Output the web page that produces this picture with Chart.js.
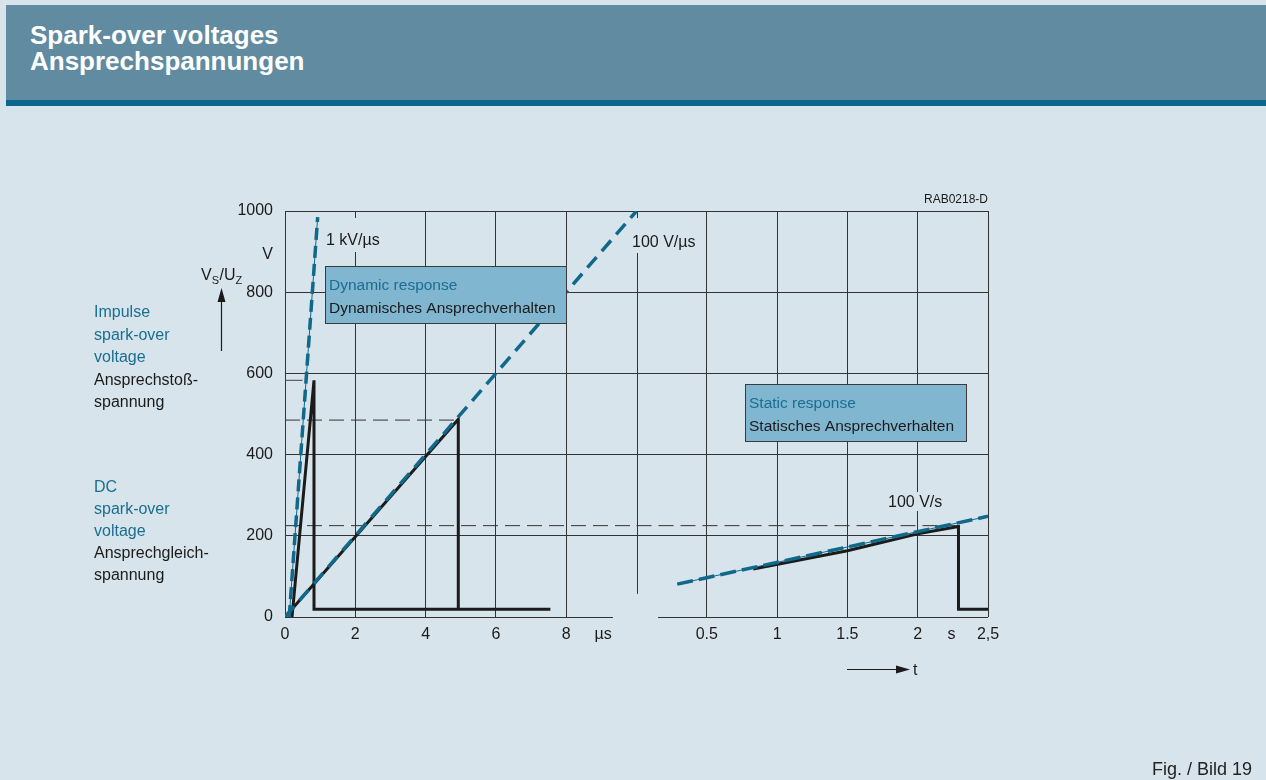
<!DOCTYPE html>
<html>
<head>
<meta charset="utf-8">
<script src="https://cdn.jsdelivr.net/npm/chart.js@4.4.1/dist/chart.umd.min.js"></script>
<style>
  html, body { margin: 0; padding: 0; background: #d8e4eb; }
  body { width: 1266px; height: 780px; position: relative; overflow: hidden;
         font-family: "Liberation Sans", Arial, Helvetica, sans-serif; }
  #header { position: absolute; left: 6px; top: 5px; width: 1260px; height: 95px;
            background: #608ba0; border-bottom: 6px solid #0b688c; }
  #title { position: absolute; left: 30px; top: 22px; color: #fff; font-weight: bold;
           font-size: 26px; line-height: 26px; white-space: nowrap; }
  #fig { position: absolute; right: 14px; top: 760px; font-size: 18px; line-height: 18px; color: #222; }
  canvas { position: absolute; left: 0; top: 0; }
</style>
</head>
<body>
<canvas id="chart" width="1266" height="780"></canvas>
<div id="header"></div>
<div id="title">Spark-over voltages<br>Ansprechspannungen</div>
<div id="fig">Fig. / Bild 19</div>
<script>
const BG = "#d8e4eb";
const TEAL = "#10688a";
const TEAL_TEXT = "#196e91";
const INK = "#1b1b1b";
const GRID = "#333333";
const FONT = '"Liberation Sans", Arial, Helvetica, sans-serif';

// y axis (volts)
const voltTicks = [0, 200, 400, 600, 800, 1000];

// tick labels of the two time sections
const usTicks = [0, 2, 4, 6, 8];
const sTicks = [0.5, 1, 1.5, 2, 2.5];
const sTickLabels = ["0.5", "1", "1.5", "2", "2,5"];

// dynamic section, time in microseconds
const rate1kTime = [0.12, 0.93];
const rate1kVolt = [0, 985];
const rate100Time = [0, 10];
const rate100Volt = [0, 1000];
const fastTime = [0.2, 0.825, 0.825, 7.55];
const fastVolt = [0, 583, 19, 19];
const slowTime = [0, 4.93, 4.93];
const slowVolt = [0, 487, 19];
const fastPeakTime = [0, 0.5];
const fastPeakVolt = [583, 583];
const slowPeakTime = [0, 4.93];
const slowPeakVolt = [485, 485];
const dcLevelUsTime = [0, 10];
const dcLevelUsVolt = [225, 225];

// static section, time in seconds
const rate100sTime = [0.29, 2.5];
const rate100sVolt = [81, 248];
const staticTime = [0.83, 1.5, 2.0, 2.29, 2.29, 2.5];
const staticVolt = [118, 163, 205, 223, 19, 19];
const dcLevelSTime = [0, 2.29];
const dcLevelSVolt = [225, 225];

// both sections share the width: 0..20 us on one axis, -2.5..2.5 s on the other
const US_MAX = 20;
const S_MIN = -2.5, S_MAX = 2.5;

function pts(xs, ys) {
    return xs.map((v, i) => ({x: v, y: ys[i]}));
}

function line(label, xs, ys, axis, style) {
    return Object.assign({
        label: label,
        data: pts(xs, ys),
        xAxisID: axis,
        pointRadius: 0,
        tension: 0,
        fill: false,
        borderWidth: 3,
        borderColor: INK,
        borderJoinStyle: "miter",
        order: 1
    }, style);
}

const tealDash = {borderColor: TEAL, borderWidth: 3.5, borderDash: [12, 6], borderCapStyle: "butt", order: 0};
const tealThin = {borderColor: TEAL, borderWidth: 1, order: 0};
const levelDash = {borderColor: GRID, borderWidth: 1, borderDash: [15, 7], order: 2};

const datasets = [
    line("1 kV/us", rate1kTime, rate1kVolt, "x", tealDash),
    line("1 kV/us thin", rate1kTime, rate1kVolt, "x", tealThin),
    line("100 V/us", rate100Time, rate100Volt, "x", Object.assign({}, tealDash, {borderDash: [14, 8]})),
    line("100 V/s", rate100sTime, rate100sVolt, "xs", Object.assign({}, tealDash, {borderDash: [16, 6]})),
    line("100 V/s thin", rate100sTime, rate100sVolt, "xs", tealThin),
    line("impulse 1 kV/us", fastTime, fastVolt, "x", {}),
    line("impulse 100 V/us", slowTime, slowVolt, "x", {}),
    line("static", staticTime, staticVolt, "xs", {}),
    line("peak 1 kV/us", fastPeakTime, fastPeakVolt, "x", {borderColor: "#444", borderWidth: 1, order: 2}),
    line("peak 100 V/us", slowPeakTime, slowPeakVolt, "x", levelDash),
    line("dc level us", dcLevelUsTime, dcLevelUsVolt, "x", levelDash),
    line("dc level s", dcLevelSTime, dcLevelSVolt, "xs", levelDash)
];

// slope labels, knocked out of the grid (above / below the baseline)
const rateLabels = [
    {text: "1 kV/\u00b5s", x: 326, y: 245, up: 27, down: 7},
    {text: "100 V/\u00b5s", x: 632, y: 247, up: 29, down: 6},
    {text: "100 V/s", x: 888, y: 507, up: 15, down: 4}
];

function usLabel(value) {
    if (usTicks.includes(value)) return String(value);
    const s = S_MIN + value / US_MAX * (S_MAX - S_MIN);
    const i = sTicks.findIndex(t => Math.abs(t - s) < 1e-6);
    return i >= 0 ? sTickLabels[i] : "";
}

function drawBox(ctx, x, y, w, h, title, sub) {
    ctx.fillStyle = "#81b6d1";
    ctx.fillRect(x, y, w, h);
    ctx.strokeStyle = "#3a3a3a";
    ctx.lineWidth = 1;
    ctx.strokeRect(x + 0.5, y + 0.5, w, h);
    ctx.font = "15.5px " + FONT;
    ctx.textAlign = "left";
    ctx.textBaseline = "alphabetic";
    ctx.fillStyle = TEAL_TEXT;
    ctx.fillText(title, x + 4, y + 24);
    ctx.fillStyle = INK;
    ctx.fillText(sub, x + 4, y + 47);
}

function arrowHead(ctx, tipX, tipY, dx, dy) {
    // dx, dy: unit direction of the arrow
    const len = 14, half = 4;
    ctx.beginPath();
    ctx.moveTo(tipX, tipY);
    ctx.lineTo(tipX - dx * len - dy * half, tipY - dy * len + dx * half);
    ctx.lineTo(tipX - dx * len + dy * half, tipY - dy * len - dx * half);
    ctx.closePath();
    ctx.fill();
}

const extras = {
    id: "extras",
    beforeDatasetsDraw(chart) {
        const ctx = chart.ctx;
        const x = chart.scales.x, xs = chart.scales.xs, y = chart.scales.y;
        ctx.save();
        ctx.strokeStyle = GRID;
        ctx.lineWidth = 1;

        // grid line between the two sections stops above the axis
        const xb = Math.round(x.getPixelForValue(10)) + 0.5;
        ctx.beginPath();
        ctx.moveTo(xb, y.getPixelForValue(1000));
        ctx.lineTo(xb, y.getPixelForValue(57));
        ctx.stroke();

        // broken time axis
        const yb = Math.round(y.getPixelForValue(0)) + 0.5;
        ctx.beginPath();
        ctx.moveTo(x.getPixelForValue(0), yb);
        ctx.lineTo(x.getPixelForValue(9.33), yb);
        ctx.moveTo(xs.getPixelForValue(0.153), yb);
        ctx.lineTo(xs.getPixelForValue(2.5), yb);
        ctx.stroke();

        ctx.font = "16px " + FONT;
        ctx.fillStyle = BG;
        rateLabels.forEach(l => {
            const w = ctx.measureText(l.text).width;
            ctx.fillRect(l.x - 3, l.y - l.up, w + 6, l.up + l.down);
        });
        ctx.restore();
    },
    afterDatasetsDraw(chart) {
        const ctx = chart.ctx;
        const x = chart.scales.x, xs = chart.scales.xs, y = chart.scales.y;
        ctx.save();

        drawBox(ctx, 325, 266, 241, 57, "Dynamic response", "Dynamisches Ansprechverhalten");
        drawBox(ctx, 745, 384, 221, 57, "Static response", "Statisches Ansprechverhalten");

        ctx.font = "16px " + FONT;
        ctx.fillStyle = INK;
        ctx.textAlign = "left";
        ctx.textBaseline = "alphabetic";
        rateLabels.forEach(l => ctx.fillText(l.text, l.x, l.y));

        // units on the time axis
        ctx.textAlign = "center";
        ctx.fillText("\u00b5s", x.getPixelForValue(9.05), 639);
        ctx.fillText("s", xs.getPixelForValue(2.24), 639);

        // t arrow
        ctx.strokeStyle = INK;
        ctx.lineWidth = 1.2;
        ctx.beginPath();
        ctx.moveTo(847, 669.5);
        ctx.lineTo(898, 669.5);
        ctx.stroke();
        arrowHead(ctx, 910, 669.5, 1, 0);
        ctx.textAlign = "left";
        ctx.fillText("t", 913, 675);

        // y axis unit and title
        ctx.textAlign = "right";
        ctx.fillText("V", 273, 259);
        ctx.textAlign = "left";
        let cx = 201;
        ctx.font = "16px " + FONT;
        ctx.fillText("V", cx, 280); cx += ctx.measureText("V").width;
        ctx.font = "11px " + FONT;
        ctx.fillText("S", cx, 284); cx += ctx.measureText("S").width + 0.5;
        ctx.font = "16px " + FONT;
        ctx.fillText("/U", cx, 280); cx += ctx.measureText("/U").width;
        ctx.font = "11px " + FONT;
        ctx.fillText("Z", cx, 284);

        ctx.beginPath();
        ctx.moveTo(221.5, 351);
        ctx.lineTo(221.5, 300);
        ctx.stroke();
        arrowHead(ctx, 221.5, 288, 0, -1);

        // left legend texts
        ctx.font = "16px " + FONT;
        const leftTexts = [
            ["Impulse", 317, TEAL_TEXT], ["spark-over", 339.5, TEAL_TEXT], ["voltage", 362, TEAL_TEXT],
            ["Ansprechsto\u00df-", 384.5, INK], ["spannung", 407, INK],
            ["DC", 491.5, TEAL_TEXT], ["spark-over", 513.5, TEAL_TEXT], ["voltage", 535.5, TEAL_TEXT],
            ["Ansprechgleich-", 558, INK], ["spannung", 580, INK]
        ];
        leftTexts.forEach(t => {
            ctx.fillStyle = t[2];
            ctx.fillText(t[0], 94, t[1]);
        });

        ctx.fillStyle = INK;
        ctx.font = "12px " + FONT;
        ctx.textAlign = "right";
        ctx.fillText("RAB0218-D", 988, 203);
        ctx.restore();
    }
};

new Chart(document.getElementById("chart").getContext("2d"), {
    type: "line",
    data: {datasets: datasets},
    options: {
        responsive: false,
        devicePixelRatio: 1,
        animation: false,
        layout: {padding: {left: 225, right: 278, top: 211, bottom: 133}},
        plugins: {legend: {display: false}, tooltip: {enabled: false}},
        scales: {
            x: {
                type: "linear",
                min: 0,
                max: US_MAX,
                afterFit: s => { s.height = 30; },
                ticks: {stepSize: 2, padding: 8, color: INK, font: {family: FONT, size: 16}, maxRotation: 0,
                        callback: v => usLabel(v)},
                grid: {drawTicks: false, color: c => (c.tick && c.tick.value === 10) ? "rgba(0,0,0,0)" : GRID},
                border: {display: false}
            },
            xs: {
                type: "linear",
                display: false,
                min: S_MIN,
                max: S_MAX
            },
            y: {
                type: "linear",
                min: voltTicks[0],
                max: voltTicks[voltTicks.length - 1],
                afterFit: s => { s.width = 60; },
                afterBuildTicks: s => { s.ticks = voltTicks.map(v => ({value: v})); },
                ticks: {padding: 12, color: INK, font: {family: FONT, size: 16}, callback: v => String(v)},
                grid: {drawTicks: false, color: c => (c.tick && c.tick.value === 0) ? "rgba(0,0,0,0)" : GRID},
                border: {display: true, color: GRID, width: 1}
            }
        }
    },
    plugins: [extras]
});
</script>
</body>
</html>
